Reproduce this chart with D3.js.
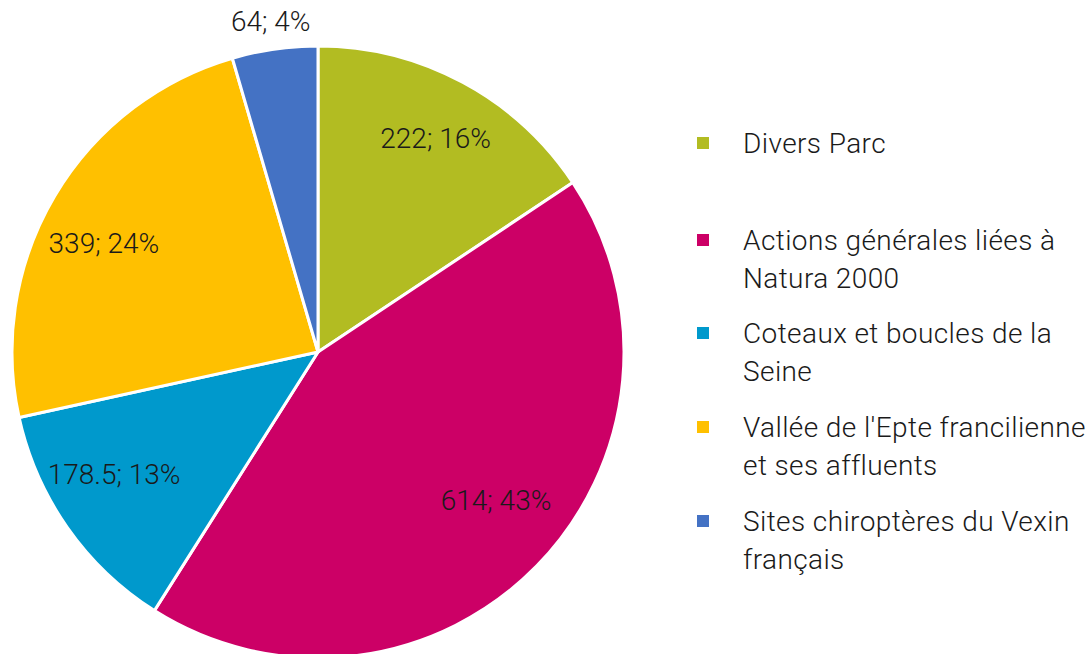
<!DOCTYPE html>
<html>
<head>
<meta charset="utf-8">
<script src="https://cdn.jsdelivr.net/npm/d3@7"></script>
<style>
  body { margin: 0; background: #fff; }
  svg text { font-family: Roboto, "Open Sans", sans-serif; font-weight: 300; fill: #1a1a1a; }
</style>
</head>
<body>
<div id="chart"></div>
<script>
// Data
var categories = ["Divers Parc", "Actions générales liées à Natura 2000", "Coteaux et boucles de la Seine",
  "Vallée de l'Epte francilienne et ses affluents", "Sites chiroptères du Vexin français"];
var values = [222, 614, 178.5, 339, 64];
var percentLabels = ["16%", "43%", "13%", "24%", "4%"];
var legendLines = [["Divers Parc"], ["Actions générales liées à", "Natura 2000"], ["Coteaux et boucles de la", "Seine"],
  ["Vallée de l'Epte francilienne", "et ses affluents"], ["Sites chiroptères du Vexin", "français"]];
var colors = ["#b2bc22", "#cc0066", "#0099cc", "#ffc000", "#4472c4"];

// Dimensions
var width = 1091, height = 654;
var cx = 318, cy = 352, radius = 306;

var svg = d3.select("#chart").append("svg")
  .attr("width", width)
  .attr("height", height);

var color = d3.scaleOrdinal().domain(categories).range(colors);

var pie = d3.pie().sort(null).value(function(d) { return d.value; });
var data = categories.map(function(c, i) { return { name: c, value: values[i], pct: percentLabels[i] }; });
var arcs = pie(data);

var arc = d3.arc().innerRadius(0).outerRadius(radius);
var labelArc = d3.arc().innerRadius(radius * 0.79).outerRadius(radius * 0.79);
var outerLabelArc = d3.arc().innerRadius(radius + 28).outerRadius(radius + 28);

var g = svg.append("g").attr("transform", "translate(" + cx + "," + cy + ")");

g.selectAll("path").data(arcs).enter().append("path")
  .attr("d", arc)
  .attr("fill", function(d) { return color(d.data.name); })
  .attr("stroke", "#fff")
  .attr("stroke-width", 3)
  .attr("stroke-linejoin", "round");

// labels: small slice goes outside; wide labels on the sides get pulled toward the horizontal
g.selectAll("text.lbl").data(arcs).enter().append("text")
  .attr("class", "lbl")
  .attr("transform", function(d) {
    var small = (d.endAngle - d.startAngle) < 0.4;
    var p = small ? outerLabelArc.centroid(d) : labelArc.centroid(d);
    if (!small) {
      p[0] = p[0] * 1.03;
      if (Math.abs(p[0]) >= Math.abs(p[1]) * 0.95) p[1] = p[1] * 0.88;
    }
    return "translate(" + p[0] + "," + p[1] + ")";
  })
  .attr("text-anchor", "middle")
  .attr("dominant-baseline", "central")
  .style("font-size", "28px")
  .text(function(d) { return d.data.value + "; " + d.data.pct; });

// Legend
var legendY = [143, 259, 352, 446, 540];
var legend = svg.append("g").attr("transform", "translate(697,0)");
var items = legend.selectAll("g").data(categories).enter().append("g")
  .attr("transform", function(d, i) { return "translate(0," + legendY[i] + ")"; });

items.append("rect")
  .attr("x", 0)
  .attr("y", function(d, i) { return -(legendLines[i].length - 1) * 19 - 6; })
  .attr("width", 12)
  .attr("height", 12)
  .attr("fill", function(d) { return color(d); });

items.append("text")
  .attr("x", 46)
  .attr("y", function(d, i) { return -(legendLines[i].length - 1) * 19; })
  .attr("dominant-baseline", "central")
  .style("font-size", "28px")
  .style("letter-spacing", "0.4px")
  .selectAll("tspan").data(function(d, i) { return legendLines[i]; }).enter().append("tspan")
  .attr("x", 46)
  .attr("dy", function(d, j) { return j === 0 ? 0 : 38; })
  .text(function(d) { return d; });
</script>
</body>
</html>
